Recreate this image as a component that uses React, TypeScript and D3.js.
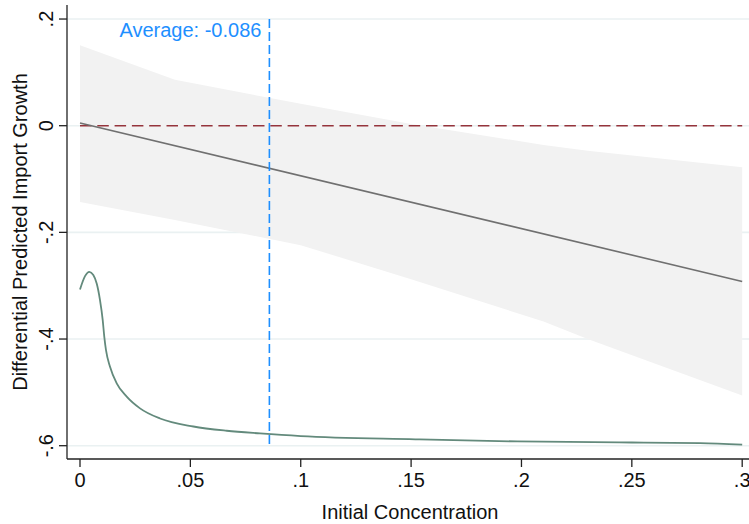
import React from 'react';
import * as d3 from 'd3';

// confidence band around the fitted line
const bandX = [0, 0.043, 0.1, 0.15, 0.21, 0.23, 0.3];
const bandUpper = [0.151, 0.086, 0.041, 0.003, -0.036, -0.047, -0.078];
const bandLower = [-0.143, -0.177, -0.224, -0.288, -0.367, -0.400, -0.506];

// fitted prediction line
const fitX = [0, 0.3];
const fitY = [0.005, -0.292];

// density-like curve
const curveX = [0, 0.00227, 0.00421, 0.00603, 0.00757, 0.00906, 0.01028, 0.01101, 0.01178, 0.0136,
  0.01663, 0.02116, 0.02719, 0.03625, 0.05135, 0.06646, 0.08157, 0.1, 0.152, 0.198, 0.25, 0.281, 0.3];
const curveY = [-0.307, -0.282, -0.274, -0.280, -0.296, -0.327, -0.364, -0.396, -0.421, -0.452,
  -0.483, -0.508, -0.530, -0.549, -0.564, -0.572, -0.577, -0.582, -0.588, -0.592, -0.594, -0.595, -0.598];

const avgValue = 0.0858;
const avgLabel = 'Average: -0.086';

const xTicks = [0, 0.05, 0.1, 0.15, 0.2, 0.25, 0.3];
const xTickLabels = ['0', '.05', '.1', '.15', '.2', '.25', '.3'];
const yTicks = [0.2, 0, -0.2, -0.4, -0.6];
const yTickLabels = ['.2', '0', '-.2', '-.4', '-.6'];

const width = 749;
const height = 524;
const font = 'Liberation Sans, Arial, sans-serif';
const fs = 20;

export default function App() {
  const x = d3.scaleLinear().domain([0, 0.3]).range([80, 742.2]);
  const y = d3.scaleLinear().domain([0, -0.6]).range([125.7, 445.7]);

  const axisX = 67;
  const axisY = 459;

  const band = d3.area<number>()
    .x((d, i) => x(bandX[i]))
    .y0((d, i) => y(bandLower[i]))
    .y1((d, i) => y(bandUpper[i]));

  const fitLine = d3.line<number>()
    .x((d, i) => x(fitX[i]))
    .y(d => y(d));

  const densLine = d3.line<number>()
    .x((d, i) => x(curveX[i]))
    .y(d => y(d))
    .curve(d3.curveMonotoneX);

  return (
    <svg width={width} height={height}
      style={{ position: 'absolute', left: 0, top: 0, background: '#fff' }}
      fontFamily={font}>
      {/* gridlines */}
      {yTicks.map(t => (
        <line key={'g' + t} x1={axisX} x2={width} y1={y(t)} y2={y(t)}
          stroke="#eaf1f2" strokeWidth={1.6} />
      ))}

      <path d={band(bandX) || ''} fill="#f2f2f2" />

      <line x1={x(0)} x2={x(0.3)} y1={y(0)} y2={y(0)}
        stroke="#95343c" strokeWidth={1.6} strokeDasharray="11.5,5.8" />

      <path d={fitLine(fitY) || ''} fill="none" stroke="#707070" strokeWidth={1.6} />

      <path d={densLine(curveY) || ''} fill="none" stroke="#638a7c" strokeWidth={1.8} />

      <line x1={x(avgValue)} x2={x(avgValue)} y1={y(0.2)} y2={y(-0.6)}
        stroke="#1e8fff" strokeWidth={1.6} strokeDasharray="9,4" />
      <text x={x(avgValue) - 8} y={36.5} textAnchor="end" fontSize={fs} fill="#1e8fff">
        {avgLabel}
      </text>

      {/* axes */}
      <line x1={axisX} x2={axisX} y1={5} y2={axisY} stroke="#222" strokeWidth={1.3} />
      <line x1={axisX} x2={width} y1={axisY} y2={axisY} stroke="#222" strokeWidth={1.3} />

      {yTicks.map((t, i) => (
        <g key={'y' + t}>
          <line x1={axisX - 8} x2={axisX} y1={y(t)} y2={y(t)} stroke="#222" strokeWidth={1.3} />
          <text transform={`translate(53.3,${y(t)}) rotate(-90)`} textAnchor="middle"
            fontSize={fs} fill="#111">{yTickLabels[i]}</text>
        </g>
      ))}

      {xTicks.map((t, i) => (
        <g key={'x' + t}>
          <line x1={x(t)} x2={x(t)} y1={axisY} y2={axisY + 8} stroke="#222" strokeWidth={1.3} />
          <text x={x(t)} y={486.5} textAnchor="middle" fontSize={fs} fill="#111">
            {xTickLabels[i]}
          </text>
        </g>
      ))}

      <text x={410} y={519} textAnchor="middle" fontSize={fs} fill="#111">
        Initial Concentration
      </text>
      <text transform={`translate(26.5,232) rotate(-90)`} textAnchor="middle"
        fontSize={fs} fill="#111">
        Differential Predicted Import Growth
      </text>
    </svg>
  );
}
